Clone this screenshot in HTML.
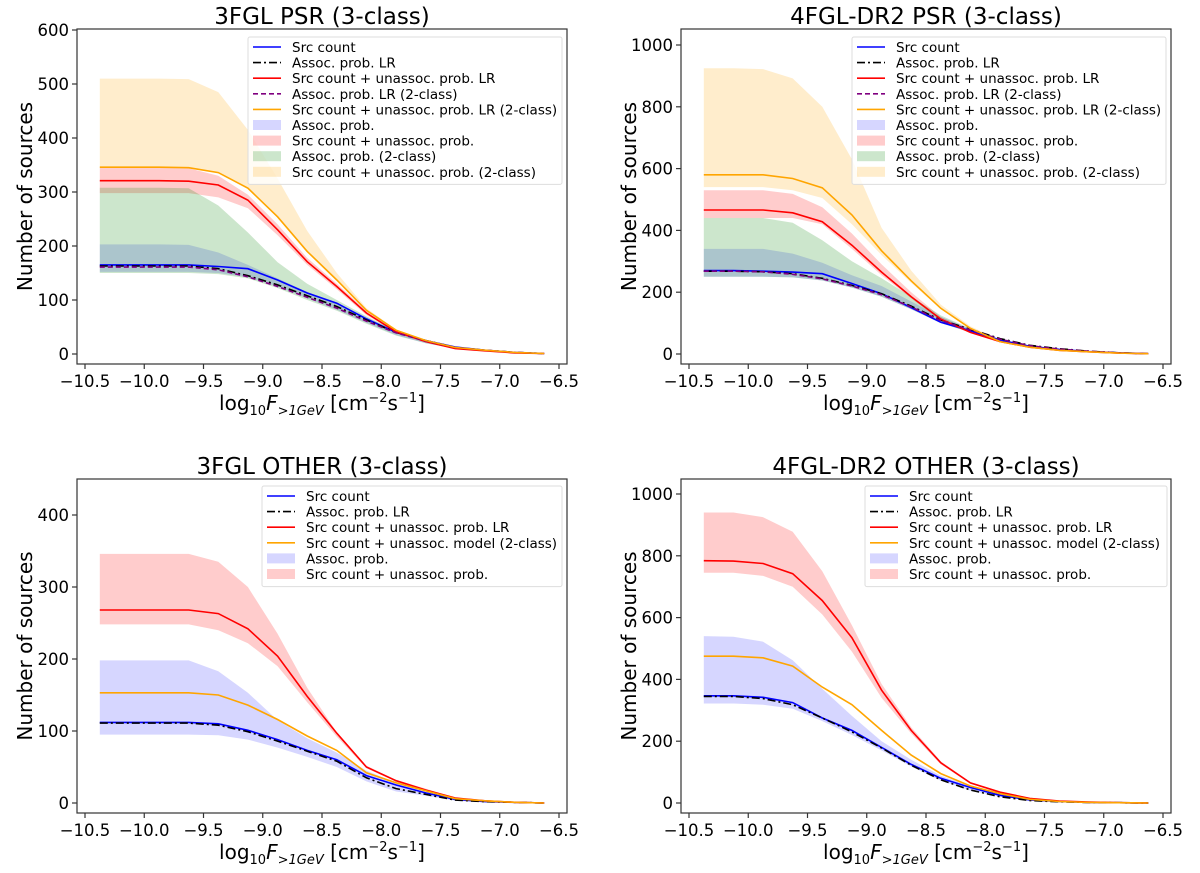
<!DOCTYPE html>
<html><head><meta charset="utf-8"><style>
html,body{margin:0;padding:0;background:#fff;}
svg text{font-family:"DejaVu Sans","Liberation Sans",sans-serif;fill:#000;}
</style></head><body>
<svg id="fig" width="1200" height="868" viewBox="0 0 1200 868" xmlns="http://www.w3.org/2000/svg"></svg>
<script>
const xVals=[-10.375,-10.125,-9.875,-9.625,-9.375,-9.125,-8.875,-8.625,-8.375,-8.125,-7.875,-7.625,-7.375,-7.125,-6.875,-6.625];
const xTicks=[-10.5,-10.0,-9.5,-9.0,-8.5,-8.0,-7.5,-7.0,-6.5];
const xTickLabels=["\u221210.5","\u221210.0","\u22129.5","\u22129.0","\u22128.5","\u22128.0","\u22127.5","\u22127.0","\u22126.5"];
// Panel A: 3FGL PSR
const a_src=[165,165,165,165,162,158,137,113,94,65,40,25,13,7,3,1];
const a_lr=[163,163,163,163,158,145,128,108,88,63,40,25,12,7,3,1];
const a_lr2=[161,161,161,161,156,143,125,105,85,61,39,24,12,7,3,1];
const a_red=[321,321,321,320,313,285,230,171,125,76,41,23,10,6,2,1];
const a_org=[346,346,346,345,336,307,254,190,137,81,44,25,12,7,3,1];
const a_blueHi=[203,203,203,202,188,165,140,115,95,68,42,25,13,7,3,1];
const a_blueLo=[152,152,152,152,150,142,125,103,82,58,35,20,10,5,2,0];
const a_redHi=[345,345,345,344,330,295,240,178,130,80,44,26,13,8,3,1];
const a_redLo=[298,298,298,298,290,270,220,165,120,72,40,23,11,6,2,1];
const a_grnHi=[308,308,308,307,275,225,170,130,100,70,42,25,13,7,3,1];
const a_grnLo=[150,150,150,150,148,140,122,100,80,56,34,20,10,5,2,0];
const a_orgHi=[510,510,510,509,485,415,325,228,150,85,45,26,13,8,3,1];
const a_orgLo=[346,346,346,345,336,307,252,190,137,82,43,25,12,7,3,1];
// Panel B: 4FGL-DR2 PSR
const b_src=[270,270,268,265,260,228,195,150,103,75,45,25,15,8,4,1];
const b_lr=[268,268,266,260,245,222,195,155,110,80,50,28,17,9,4,1];
const b_lr2=[268,268,266,258,243,220,192,152,108,78,48,27,16,9,4,1];
const b_red=[466,466,466,457,428,352,265,185,113,70,40,22,12,7,3,1];
const b_org=[580,580,580,568,538,450,334,237,148,83,40,22,12,7,3,1];
const b_blueHi=[340,340,340,325,295,255,220,170,120,82,50,28,16,8,4,1];
const b_blueLo=[250,250,250,248,238,215,185,145,100,70,43,24,14,7,3,1];
const b_redHi=[530,530,530,518,475,390,290,200,120,75,42,23,13,7,3,1];
const b_redLo=[440,440,440,440,420,340,255,180,108,68,38,20,11,6,3,1];
const b_grnHi=[440,440,440,425,368,300,245,185,125,82,48,26,15,8,4,1];
const b_grnLo=[250,250,250,248,238,215,185,145,100,70,43,24,14,7,3,1];
const b_orgHi=[925,925,922,892,800,630,408,270,160,90,45,25,13,7,3,1];
const b_orgLo=[540,540,540,530,505,420,320,230,145,82,40,22,12,7,3,1];
// Panel C: 3FGL OTHER
const c_src=[112,112,112,112,110,101,88,73,60,38,25,14,5,2,1,0];
const c_lr=[111,111,111,111,108,99,86,72,58,35,20,12,4,2,1,0];
const c_red=[268,268,268,268,263,242,204,148,97,50,31,18,7,3,1,0];
const c_org=[153,153,153,153,150,136,116,93,73,42,28,17,6,3,1,0];
const c_blueHi=[198,198,198,198,183,153,115,90,70,45,28,15,6,3,1,0];
const c_blueLo=[95,95,95,95,94,88,77,64,50,30,16,10,3,1,0,0];
const c_redHi=[346,346,346,346,335,300,235,160,98,52,32,20,7,3,1,0];
const c_redLo=[248,248,248,248,240,222,190,140,92,48,30,18,6,3,1,0];
// Panel D: 4FGL-DR2 OTHER
const d_src=[347,347,342,325,275,235,180,125,80,50,25,10,5,2,1,0];
const d_lr=[345,345,338,318,275,230,178,122,75,42,20,8,4,2,1,0];
const d_red=[784,783,775,742,655,535,365,235,130,65,35,15,6,3,1,0];
const d_org=[475,475,470,443,375,318,235,155,95,55,30,12,5,2,1,0];
const d_blueHi=[540,538,522,462,370,282,200,140,88,55,28,12,5,2,1,0];
const d_blueLo=[322,322,318,305,265,220,170,118,72,40,20,8,4,2,1,0];
const d_redHi=[940,940,925,878,750,575,385,245,135,68,37,16,7,3,1,0];
const d_redLo=[745,745,735,700,610,490,340,225,125,62,33,14,6,3,1,0];

const NS="http://www.w3.org/2000/svg";
const svg=document.getElementById('fig');
function mk(tag,attrs,parent){const e=document.createElementNS(NS,tag);for(const k in attrs)e.setAttribute(k,attrs[k]);(parent||svg).appendChild(e);return e;}

const BLUEF="rgba(0,0,255,0.16)",REDF="rgba(255,0,0,0.2)",GRNF="rgba(0,128,0,0.2)",ORGF="rgba(255,165,0,0.2)";

function panel(cfg){
  const g=mk('g',{});
  
  
  const X=v=>cfg.xOrigin+(v+10.5)*118.5;
  const Y=v=>cfg.y0px-v*cfg.yScale;
  cfg.fills.forEach(f=>{
    let d='M'+xVals.map((x,i)=>X(x).toFixed(1)+','+Y(f.hi[i]).toFixed(1)).join('L');
    for(let i=xVals.length-1;i>=0;i--)d+='L'+X(xVals[i]).toFixed(1)+','+Y(f.lo[i]).toFixed(1);
    const p=mk('path',{d:d+'Z',fill:f.color,stroke:'none'},g);
    
    
  });
  cfg.lines.forEach(l=>{
    const d='M'+xVals.map((x,i)=>X(x).toFixed(1)+','+Y(l.vals[i]).toFixed(1)).join('L');
    const p=mk('path',{d:d,fill:'none',stroke:l.color,'stroke-width':1.6,'stroke-dasharray':l.dash||'none'},g);
    
    
  });
  const fr=mk('rect',{x:cfg.left,y:cfg.top,width:490,height:cfg.bottom-cfg.top,fill:'none',stroke:'#333','stroke-width':1.2},g);
  
  
  xTicks.forEach((t,i)=>{
    mk('line',{x1:X(t),x2:X(t),y1:cfg.bottom,y2:cfg.bottom+5,stroke:'#333','stroke-width':1.2},g);
    const tx=mk('text',{x:X(t),y:cfg.bottom+23,'font-size':16.5,'text-anchor':'middle'},g);
    tx.textContent=xTickLabels[i];
    
    
  });
  cfg.yTicks.forEach(t=>{
    mk('line',{x1:cfg.left-5,x2:cfg.left,y1:Y(t),y2:Y(t),stroke:'#333','stroke-width':1.2},g);
    const tx=mk('text',{x:cfg.left-8,y:Y(t)+6,'font-size':16.5,'text-anchor':'end'},g);
    tx.textContent=String(t);
    
    
  });
  const ti=mk('text',{x:cfg.left+245,y:cfg.top-5,'font-size':23,'text-anchor':'middle'},g);
  ti.textContent=cfg.title;
  
  
  const yl=mk('text',{x:0,y:0,'font-size':20,'text-anchor':'middle',transform:`translate(${cfg.left-45},${(cfg.top+cfg.bottom)/2}) rotate(-90)`},g);
  yl.textContent='Number of sources';
  
  
  const xl=mk('text',{x:cfg.left+245,y:cfg.bottom+46,'font-size':20,'text-anchor':'middle'},g);
  xl.innerHTML='log<tspan font-size="13" dy="5">10</tspan><tspan dy="-5" font-style="italic">F</tspan><tspan font-size="13" dy="5" font-style="italic">&gt;1GeV</tspan><tspan dy="-5"> [cm</tspan><tspan font-size="13" dy="-8">\u22122</tspan><tspan dy="8">s</tspan><tspan font-size="13" dy="-8">\u22121</tspan><tspan dy="8">]</tspan>';
  
  
  const lg=mk('g',{},g);
  
  
  const n=cfg.legend.length;
  mk('rect',{x:cfg.legX,y:cfg.legY,width:cfg.legW,height:n*15.6+7,fill:'#fff','fill-opacity':0.8,stroke:'#ddd','stroke-width':1,rx:2},lg);
  cfg.legend.forEach((e,i)=>{
    const cy=cfg.legY+10+i*15.6;
    if(e.type==='line'){
      mk('line',{x1:cfg.legX+5,x2:cfg.legX+33,y1:cy,y2:cy,stroke:e.color,'stroke-width':1.6,'stroke-dasharray':e.dash||'none'},lg);
    }else{
      mk('rect',{x:cfg.legX+5,y:cy-5,width:28,height:10,fill:e.color},lg);
    }
    const t=mk('text',{x:cfg.legX+44,y:cy+5,'font-size':13.5},lg);
    t.textContent=e.label;
    
    
  });
}
const legPSR=[
 {type:'line',color:'#0000ff',label:'Src count'},
 {type:'line',color:'#000',dash:'8,3,2,3',label:'Assoc. prob. LR'},
 {type:'line',color:'#ff0000',label:'Src count + unassoc. prob. LR'},
 {type:'line',color:'#800080',dash:'5,3',label:'Assoc. prob. LR (2-class)'},
 {type:'line',color:'#ffa500',label:'Src count + unassoc. prob. LR (2-class)'},
 {type:'fill',color:BLUEF,label:'Assoc. prob.'},
 {type:'fill',color:REDF,label:'Src count + unassoc. prob.'},
 {type:'fill',color:GRNF,label:'Assoc. prob. (2-class)'},
 {type:'fill',color:ORGF,label:'Src count + unassoc. prob. (2-class)'}];
const legOTH=[
 {type:'line',color:'#0000ff',label:'Src count'},
 {type:'line',color:'#000',dash:'8,3,2,3',label:'Assoc. prob. LR'},
 {type:'line',color:'#ff0000',label:'Src count + unassoc. prob. LR'},
 {type:'line',color:'#ffa500',label:'Src count + unassoc. model (2-class)'},
 {type:'fill',color:BLUEF,label:'Assoc. prob.'},
 {type:'fill',color:REDF,label:'Src count + unassoc. prob.'}];

function psrLines(src,lr,lr2,red,org){return [
 {name:'src-count-line',vals:src,color:'#0000ff'},
 {name:'assoc-prob-lr-line',vals:lr,color:'#000',dash:'8,3,2,3'},
 {name:'src-unassoc-lr-line',vals:red,color:'#ff0000'},
 {name:'assoc-prob-lr-2class-line',vals:lr2,color:'#800080',dash:'5,3'},
 {name:'src-unassoc-lr-2class-line',vals:org,color:'#ffa500'}];}
function othLines(src,lr,red,org){return [
 {name:'src-count-line',vals:src,color:'#0000ff'},
 {name:'assoc-prob-lr-line',vals:lr,color:'#000',dash:'8,3,2,3'},
 {name:'src-unassoc-lr-line',vals:red,color:'#ff0000'},
 {name:'src-unassoc-model-2class-line',vals:org,color:'#ffa500'}];}

panel({name:'panel-3fgl-psr',title:'3FGL PSR (3-class)',left:77,top:29,bottom:364,xOrigin:85,y0px:354,yScale:0.54,yTicks:[0,100,200,300,400,500,600],
 fills:[{name:'assoc-prob-band',hi:a_blueHi,lo:a_blueLo,color:BLUEF},{name:'src-unassoc-band',hi:a_redHi,lo:a_redLo,color:REDF},{name:'assoc-prob-2class-band',hi:a_grnHi,lo:a_grnLo,color:GRNF},{name:'src-unassoc-2class-band',hi:a_orgHi,lo:a_orgLo,color:ORGF}],
 lines:psrLines(a_src,a_lr,a_lr2,a_red,a_org),legend:legPSR,legX:248,legY:37,legW:314});
panel({name:'panel-4fgl-psr',title:'4FGL-DR2 PSR (3-class)',left:681,top:29,bottom:364,xOrigin:689,y0px:354,yScale:0.309,yTicks:[0,200,400,600,800,1000],
 fills:[{name:'assoc-prob-band',hi:b_blueHi,lo:b_blueLo,color:BLUEF},{name:'src-unassoc-band',hi:b_redHi,lo:b_redLo,color:REDF},{name:'assoc-prob-2class-band',hi:b_grnHi,lo:b_grnLo,color:GRNF},{name:'src-unassoc-2class-band',hi:b_orgHi,lo:b_orgLo,color:ORGF}],
 lines:psrLines(b_src,b_lr,b_lr2,b_red,b_org),legend:legPSR,legX:852,legY:37,legW:314});
panel({name:'panel-3fgl-other',title:'3FGL OTHER (3-class)',left:77,top:479,bottom:813,xOrigin:85,y0px:803,yScale:0.72,yTicks:[0,100,200,300,400],
 fills:[{name:'assoc-prob-band',hi:c_blueHi,lo:c_blueLo,color:BLUEF},{name:'src-unassoc-band',hi:c_redHi,lo:c_redLo,color:REDF}],
 lines:othLines(c_src,c_lr,c_red,c_org),legend:legOTH,legX:262,legY:486,legW:300});
panel({name:'panel-4fgl-other',title:'4FGL-DR2 OTHER (3-class)',left:681,top:479,bottom:813,xOrigin:689,y0px:803,yScale:0.309,yTicks:[0,200,400,600,800,1000],
 fills:[{name:'assoc-prob-band',hi:d_blueHi,lo:d_blueLo,color:BLUEF},{name:'src-unassoc-band',hi:d_redHi,lo:d_redLo,color:REDF}],
 lines:othLines(d_src,d_lr,d_red,d_org),legend:legOTH,legX:865,legY:486,legW:302});
</script>
</body></html>
